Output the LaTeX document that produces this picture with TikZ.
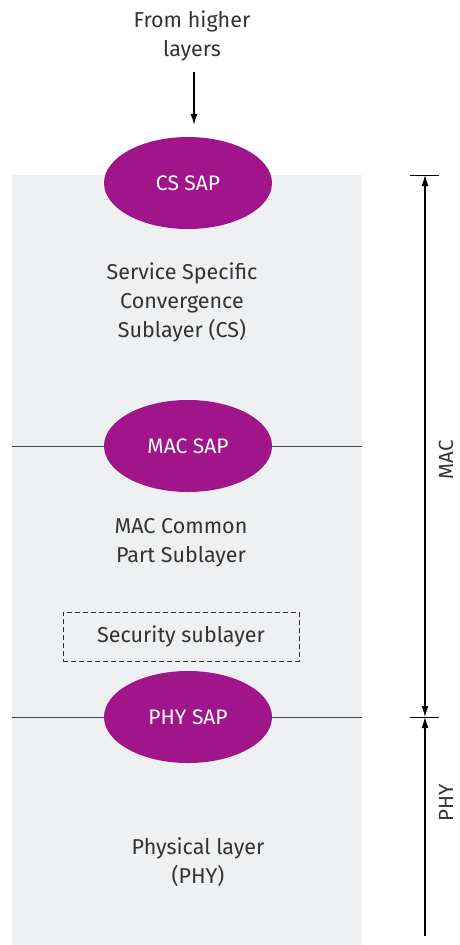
\documentclass[tikz,border=0pt]{standalone}
\usepackage{fontspec}
\setmainfont{Fira Sans}
\usetikzlibrary{shapes.geometric,positioning,arrows.meta}
\definecolor{sapviola}{HTML}{A0168A}
\definecolor{sfondo}{HTML}{EFF0F2}
\definecolor{testo}{HTML}{333333}
\definecolor{linea}{HTML}{444444}

\begin{document}
\begin{tikzpicture}[x=1pt,y=-1pt,
    sap/.style={ellipse,fill=sapviola,text=white,minimum width=168pt,minimum height=92pt,inner sep=0pt,font=\fontsize{21}{24}\selectfont},
    etichetta/.style={text=testo,align=center,font=\fontsize{21.5}{29}\selectfont},
    quotalab/.style={text=testo,font=\fontsize{20.5}{24}\selectfont,rotate=90,inner sep=0pt},
    freccia/.style={-{Latex[length=11pt,width=7pt]},line width=1.1pt}]
    \useasboundingbox (0,0) rectangle (460,945);

    %sfondo
    \fill[sfondo] (12,175) rectangle (362,945);

    %testo in alto
    \node[etichetta] (alto) at (192,36) {From higher\\layers};

    %sap
    \node[sap] (cssap) at (188,183) {CS SAP};
    \coordinate (macsx) at (12,446);
    \coordinate (macdx) at (362,446);
    \draw[linea,line width=1pt] (macsx) -- (macdx);
    \node[sap] (macsap) at (188,446) {MAC SAP};
    \coordinate (physx) at (12,717);
    \coordinate (phydx) at (362,717);
    \draw[linea,line width=1pt] (physx) -- (phydx);
    \node[sap] (physap) at (188,717) {PHY SAP};

    %freccia in ingresso
    \coordinate (ingresso) at (194,72);
    \coordinate (cima) at ([yshift=12]cssap.north);
    \draw[freccia] (ingresso) -- (ingresso |- cima);

    %sottolivelli
    \node[etichetta] (cs) at (182,302) {Service Specific\\Convergence\\Sublayer (CS)};
    \node[etichetta] (cps) at (181,543) {MAC Common\\Part Sublayer};
    \node[etichetta,draw=testo,dash pattern=on 5pt off 3pt,line width=1pt,minimum width=236pt,minimum height=49pt] (sicurezza) at (181,636.5) {Security sublayer};
    \node[etichetta] (phy) at (198,862) {Physical layer\\(PHY)};

    %quote
    \coordinate (macsup) at (425,175);
    \coordinate (macinf) at (425,717);
    \coordinate (phyinf) at (425,936);
    \draw[line width=1pt] ([xshift=-15]macsup) -- ([xshift=14]macsup);
    \draw[line width=1pt] ([xshift=-15]macinf) -- ([xshift=14]macinf);
    \draw[freccia,{Latex[length=11pt,width=7pt]}-{Latex[length=11pt,width=7pt]}] (macinf) -- (macsup);
    \draw[freccia] (phyinf) -- (macinf);
    \node[quotalab] (maclab) at (446,460) {MAC};
    \node[quotalab] (phylab) at (446,803) {PHY};

\end{tikzpicture}
\end{document}
